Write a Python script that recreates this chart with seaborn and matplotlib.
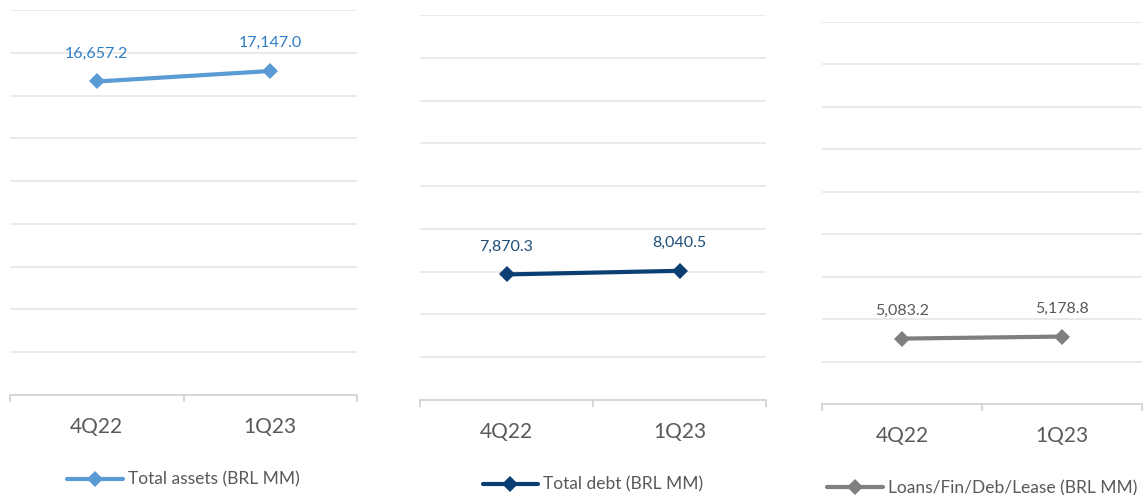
import matplotlib
matplotlib.use('Agg')
import matplotlib.pyplot as plt
import seaborn as sns
import pandas as pd

quarters = ["4Q22", "1Q23"]
total_assets = [16657.2, 17147.0]
total_debt = [7870.3, 8040.5]
loans_fin = [5083.2, 5178.8]

series_names = ["Total assets (BRL MM)", "Total debt (BRL MM)", "Loans/Fin/Deb/Lease (BRL MM)"]
line_colors = ["#5b9bd5", "#0b3f73", "#7f7f7f"]
label_colors = ["#2e7dc4", "#1f4e79", "#595959"]

sns.set_theme(style="white")
plt.rcParams['font.family'] = ['Lato', 'DejaVu Sans']

fig = plt.figure(figsize=(11.43, 4.95), dpi=100)
# axes boxes (left, bottom, width, height in figure fraction)
boxes = [
    [0.0088, 0.2020, 0.3036, 0.7778],
    [0.3675, 0.1919, 0.3027, 0.7778],
    [0.7192, 0.1838, 0.2800, 0.7717],
]

for i, values in enumerate([total_assets, total_debt, loans_fin]):
    ax = fig.add_axes(boxes[i])
    df = pd.DataFrame({'quarter': quarters, 'value': values})
    sns.lineplot(data=df, x='quarter', y='value', ax=ax, color=line_colors[i],
                 linewidth=3, marker='D', markersize=8, markeredgewidth=0,
                 sort=False, label=series_names[i])

    for x, v in enumerate(values):
        ax.annotate(f"{v:,.1f}", (x, v), xytext=(0, 20), textcoords='offset points',
                    ha='center', va='center', fontsize=11.5, color=label_colors[i])

    ax.set_xlim(-0.5, 1.5)
    ax.set_ylim(2000, 20000)
    ax.set_yticks(range(4000, 20001, 2000))
    ax.yaxis.grid(True, color='#e6e6e6', linewidth=1.2)
    ax.set_axisbelow(True)
    ax.set_yticklabels([])
    ax.tick_params(axis='y', length=0)

    ax.set_xticks([0, 1])
    ax.set_xticklabels(quarters)
    ax.set_xticks([-0.5, 0.5, 1.5], minor=True)
    ax.tick_params(axis='x', which='major', length=0, pad=16, labelsize=15, labelcolor='#595959')
    ax.tick_params(axis='x', which='minor', length=5, width=1.2, color='#d0d0d0', bottom=True)
    ax.set_xlabel('')
    ax.set_ylabel('')

    for side in ['top', 'left', 'right']:
        ax.spines[side].set_visible(False)
    ax.spines['bottom'].set_color('#d0d0d0')
    ax.spines['bottom'].set_linewidth(1.2)

    leg = ax.legend(loc='center', bbox_to_anchor=(0.5, -0.22), frameon=False,
                    fontsize=12.5, handlelength=3.2, handletextpad=0.3, labelcolor='#595959')

plt.savefig('out.png', dpi=100)
plt.close()
